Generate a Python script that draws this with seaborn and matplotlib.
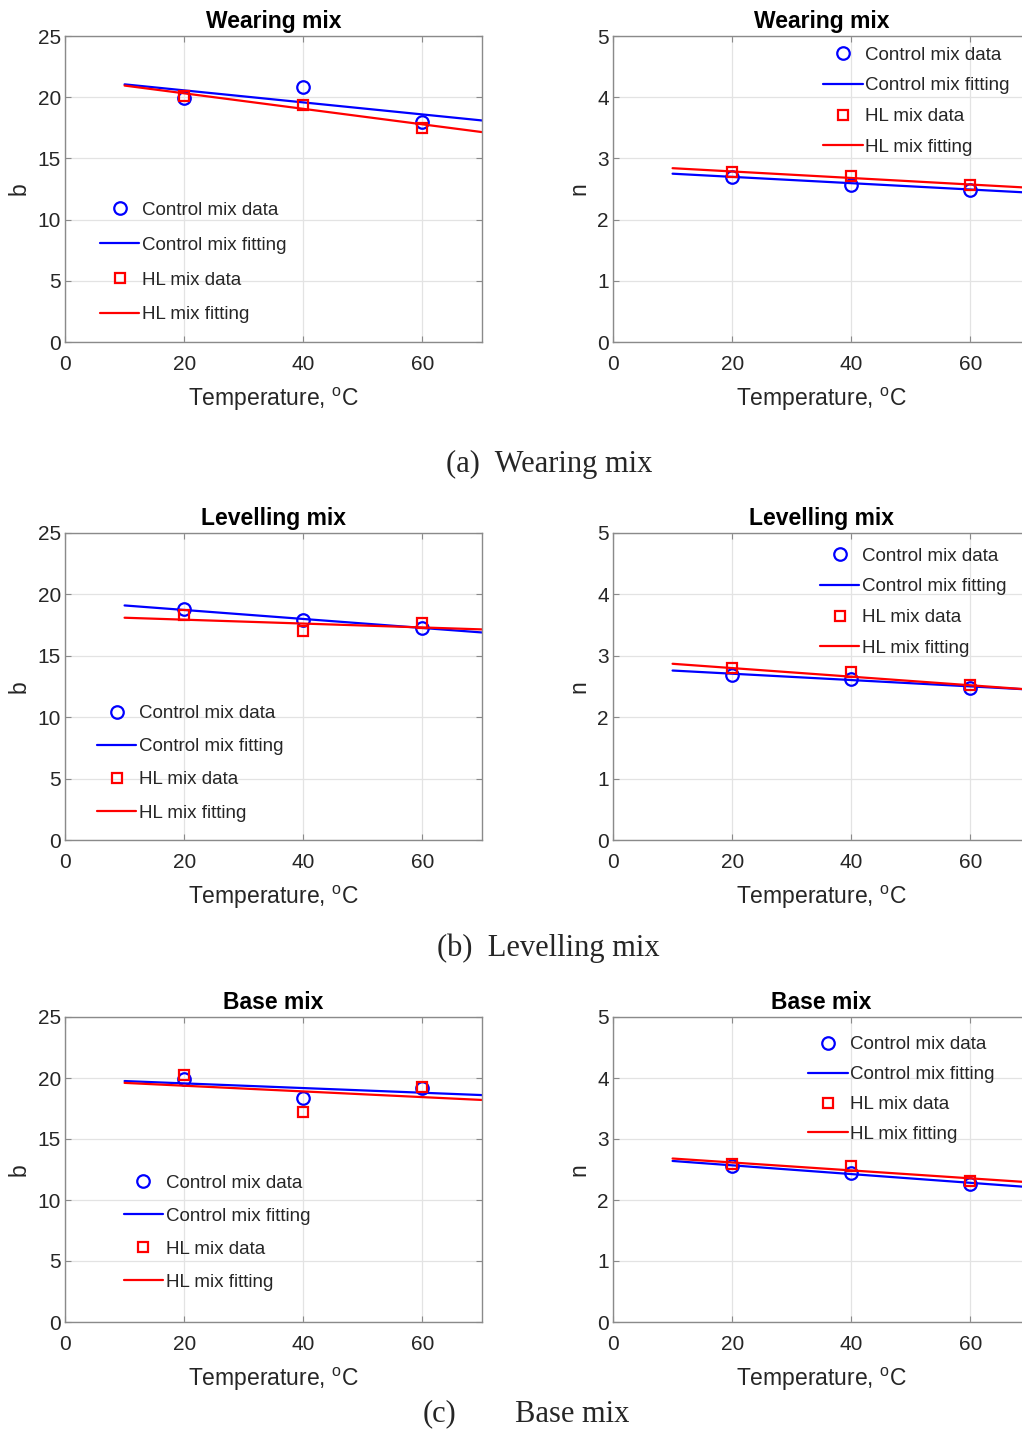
import numpy as np
import pandas as pd
import matplotlib
matplotlib.use("Agg")
import matplotlib.pyplot as plt
import seaborn as sns

# ---------------- data ----------------
temps = [20, 40, 60]
fit_T = [10, 70]

# Wearing mix
wear_b_ctrl = [19.9, 20.8, 18.0]
wear_b_hl = [20.1, 19.4, 17.5]
wear_b_ctrl_fit = [21.05, 18.1]
wear_b_hl_fit = [20.95, 17.15]
wear_n_ctrl = [2.70, 2.57, 2.48]
wear_n_hl = [2.78, 2.71, 2.57]
wear_n_ctrl_fit = [2.75, 2.44]
wear_n_hl_fit = [2.84, 2.52]

# Levelling mix
lev_b_ctrl = [18.8, 17.9, 17.3]
lev_b_hl = [18.3, 17.0, 17.7]
lev_b_ctrl_fit = [19.1, 16.9]
lev_b_hl_fit = [18.1, 17.15]
lev_n_ctrl = [2.69, 2.62, 2.48]
lev_n_hl = [2.80, 2.74, 2.52]
lev_n_ctrl_fit = [2.76, 2.45]
lev_n_hl_fit = [2.87, 2.45]

# Base mix
base_b_ctrl = [19.9, 18.4, 19.15]
base_b_hl = [20.25, 17.2, 19.3]
base_b_ctrl_fit = [19.75, 18.6]
base_b_hl_fit = [19.6, 18.2]
base_n_ctrl = [2.55, 2.44, 2.27]
base_n_hl = [2.59, 2.56, 2.31]
base_n_ctrl_fit = [2.64, 2.21]
base_n_hl_fit = [2.68, 2.29]

titles = ["Wearing mix", "Levelling mix", "Base mix"]
labels = ["Control mix data", "Control mix fitting", "HL mix data", "HL mix fitting"]

# ---------------- style ----------------
sns.set_theme(style="whitegrid")
plt.rcParams["font.family"] = ["Liberation Sans", "DejaVu Sans"]
plt.rcParams["mathtext.fontset"] = "custom"
plt.rcParams["mathtext.rm"] = "Liberation Sans"
plt.rcParams["mathtext.it"] = "Liberation Sans"

W, H = 1022, 1429
fig = plt.figure(figsize=(W / 100, H / 100), dpi=100)

# axes rectangles in pixels
rows_px = [(36, 342), (533, 840), (1017, 1322)]
left_px = (65, 482)
right_px = (613, 1030)

legend_pos = [
    [(0.084, 0.459, 0.95), (0.504, 0.965, 0.72)],
    [(0.077, 0.439, 0.85), (0.496, 0.952, 0.72)],
    [(0.141, 0.484, 0.85), (0.468, 0.937, 0.68)],
]

data = [
    (wear_b_ctrl, wear_b_hl, wear_b_ctrl_fit, wear_b_hl_fit,
     wear_n_ctrl, wear_n_hl, wear_n_ctrl_fit, wear_n_hl_fit),
    (lev_b_ctrl, lev_b_hl, lev_b_ctrl_fit, lev_b_hl_fit,
     lev_n_ctrl, lev_n_hl, lev_n_ctrl_fit, lev_n_hl_fit),
    (base_b_ctrl, base_b_hl, base_b_ctrl_fit, base_b_hl_fit,
     base_n_ctrl, base_n_hl, base_n_ctrl_fit, base_n_hl_fit),
]

tick_color = "#262626"
spine_color = "#8a8a8a"
grid_color = "#e3e3e3"


def draw_panel(ax, ctrl, hl, ctrl_fit, hl_fit, ylabel, ymax, yticks, title, legpos):
    sns.lineplot(x=temps, y=ctrl, ax=ax, marker="o", linestyle="none",
                 markerfacecolor="none", markeredgecolor="blue", markeredgewidth=1.6,
                 markersize=9, color="blue", label=labels[0])
    sns.lineplot(x=fit_T, y=ctrl_fit, ax=ax, color="blue", linewidth=1.6,
                 label=labels[1])
    sns.lineplot(x=temps, y=hl, ax=ax, marker="s", linestyle="none",
                 markerfacecolor="none", markeredgecolor="red", markeredgewidth=1.6,
                 markersize=7, color="red", label=labels[2])
    sns.lineplot(x=fit_T, y=hl_fit, ax=ax, color="red", linewidth=1.6,
                 label=labels[3])
    ax.set_xlim(0, 70)
    ax.set_ylim(0, ymax)
    ax.set_xticks([0, 20, 40, 60])
    ax.set_yticks(yticks)
    ax.grid(True, color=grid_color, linewidth=0.9)
    for s in ax.spines.values():
        s.set_color(spine_color)
        s.set_linewidth(1.0)
        s.set_visible(True)
    ax.tick_params(axis="both", direction="in", length=4, width=0.8,
                   color=spine_color, labelsize=15, labelcolor=tick_color,
                   top=True, right=True, bottom=True, left=True)
    ax.tick_params(axis="x", pad=9)
    ax.tick_params(axis="y", pad=3)
    ax.set_xlabel("Temperature, $^{\\rm o}$C", fontsize=16.5, color=tick_color,
                  labelpad=9)
    ax.set_ylabel(ylabel, fontsize=16.5, color=tick_color, labelpad=5)
    ax.set_title(title, fontsize=16.5, fontweight="bold", color="black", pad=6)
    lx, ly, lsp = legpos
    ax.legend(loc="upper left", bbox_to_anchor=(lx, ly), frameon=False,
              fontsize=13.5, handlelength=2.1, handletextpad=0.15,
              labelspacing=lsp, borderpad=0, borderaxespad=0, numpoints=1)


for r, (top, bot) in enumerate(rows_px):
    b = 1 - bot / H
    h = (bot - top) / H
    axl = fig.add_axes([left_px[0] / W, b, (left_px[1] - left_px[0]) / W, h])
    axr = fig.add_axes([right_px[0] / W, b, (right_px[1] - right_px[0]) / W, h])
    d = data[r]
    draw_panel(axl, d[0], d[1], d[2], d[3], "b", 25, [0, 5, 10, 15, 20, 25],
               titles[r], legend_pos[r][0])
    draw_panel(axr, d[4], d[5], d[6], d[7], "n", 5, [0, 1, 2, 3, 4, 5],
               titles[r], legend_pos[r][1])

serif = ["Liberation Serif", "DejaVu Serif"]
fig.text(549 / W, 1 - 464 / H, "(a)  Wearing mix", ha="center", va="center",
         fontsize=22, family=serif)
fig.text(548 / W, 1 - 948 / H, "(b)  Levelling mix", ha="center", va="center",
         fontsize=22, family=serif)
fig.text(439 / W, 1 - 1414 / H, "(c)", ha="center", va="center",
         fontsize=22, family=serif)
fig.text(572 / W, 1 - 1414 / H, "Base mix", ha="center", va="center",
         fontsize=22, family=serif)

fig.savefig("out.png", dpi=100)
